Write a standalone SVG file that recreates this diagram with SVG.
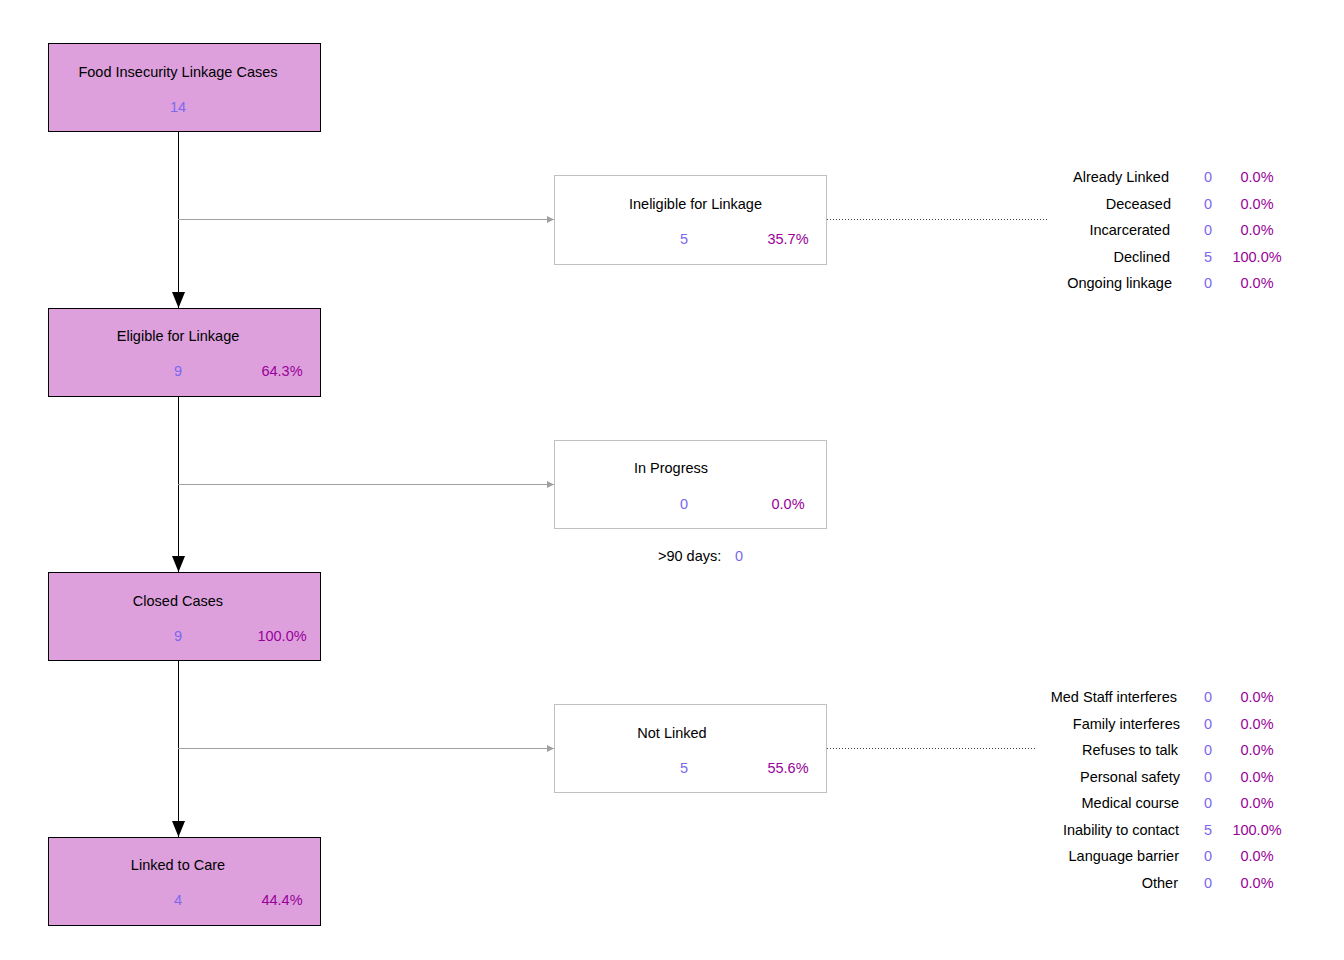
<svg xmlns="http://www.w3.org/2000/svg" width="1344" height="960" viewBox="0 0 1344 960">
  <style>
    text { font-family: "Liberation Sans", Arial, sans-serif; font-size: 14.5px; }
    .lbl { fill: #000000; }
    .num { fill: #7b68ee; text-anchor: middle; }
    .pct { fill: #990099; text-anchor: middle; }
    .mid { text-anchor: middle; }
    .end { text-anchor: end; }
    .main { fill: #dda0dd; stroke: #000000; stroke-width: 1; }
    .side { fill: #ffffff; stroke: #c0c0c0; stroke-width: 1; }
    .flow { stroke: #000000; stroke-width: 1; fill: none; }
    .branch { stroke: #a0a0a0; stroke-width: 1; fill: none; }
    .dots { stroke: #404040; stroke-width: 1; stroke-dasharray: 1 2; fill: none; }
  </style>
  <defs>
    <marker id="bigArrow" markerWidth="16" markerHeight="13" refX="16" refY="6.5" orient="auto" markerUnits="userSpaceOnUse">
      <path d="M0,0 L16,6.5 L0,13 Z" fill="#000000"/>
    </marker>
    <marker id="smallArrow" markerWidth="7" markerHeight="7" refX="7" refY="3.5" orient="auto" markerUnits="userSpaceOnUse">
      <path d="M0,0 L7,3.5 L0,7 Z" fill="#a0a0a0"/>
    </marker>
  </defs>

  <rect width="1344" height="960" fill="#ffffff"/>

  <!-- connectors -->
  <g id="connectors">
    <line class="flow" x1="178.5" y1="131" x2="178.5" y2="308" marker-end="url(#bigArrow)"/>
    <line class="flow" x1="178.5" y1="396" x2="178.5" y2="572" marker-end="url(#bigArrow)"/>
    <line class="flow" x1="178.5" y1="660" x2="178.5" y2="837" marker-end="url(#bigArrow)"/>
    <line class="branch" x1="178" y1="219.5" x2="554" y2="219.5" marker-end="url(#smallArrow)"/>
    <line class="branch" x1="178" y1="484.5" x2="554" y2="484.5" marker-end="url(#smallArrow)"/>
    <line class="branch" x1="178" y1="748.5" x2="554" y2="748.5" marker-end="url(#smallArrow)"/>
    <line class="dots" x1="827" y1="219.5" x2="1048" y2="219.5"/>
    <line class="dots" x1="827" y1="748.5" x2="1036" y2="748.5"/>
  </g>

  <!-- main flow -->
  <g id="food-insecurity-cases">
    <rect class="main" x="48.5" y="43.5" width="272" height="88"/>
    <text class="lbl mid" x="178" y="77">Food Insecurity Linkage Cases</text>
    <text class="num" x="178" y="112">14</text>
  </g>
  <g id="eligible">
    <rect class="main" x="48.5" y="308.5" width="272" height="88"/>
    <text class="lbl mid" x="178" y="341">Eligible for Linkage</text>
    <text class="num" x="178" y="376">9</text>
    <text class="pct" x="282" y="376">64.3%</text>
  </g>
  <g id="closed">
    <rect class="main" x="48.5" y="572.5" width="272" height="88"/>
    <text class="lbl mid" x="178" y="606">Closed Cases</text>
    <text class="num" x="178" y="641">9</text>
    <text class="pct" x="282" y="641">100.0%</text>
  </g>
  <g id="linked">
    <rect class="main" x="48.5" y="837.5" width="272" height="88"/>
    <text class="lbl mid" x="178" y="870">Linked to Care</text>
    <text class="num" x="178" y="905">4</text>
    <text class="pct" x="282" y="905">44.4%</text>
  </g>

  <!-- branches -->
  <g id="ineligible">
    <rect class="side" x="554.5" y="175.5" width="272" height="89"/>
    <text class="lbl mid" x="695.5" y="209">Ineligible for Linkage</text>
    <text class="num" x="684" y="244">5</text>
    <text class="pct" x="788" y="244">35.7%</text>
  </g>
  <g id="in-progress">
    <rect class="side" x="554.5" y="440.5" width="272" height="88"/>
    <text class="lbl mid" x="671" y="473">In Progress</text>
    <text class="num" x="684" y="509">0</text>
    <text class="pct" x="788" y="509">0.0%</text>
    <text class="lbl" x="658" y="561">&gt;90 days:</text>
    <text class="num" x="739" y="561">0</text>
  </g>
  <g id="not-linked">
    <rect class="side" x="554.5" y="704.5" width="272" height="88"/>
    <text class="lbl mid" x="672" y="738">Not Linked</text>
    <text class="num" x="684" y="773">5</text>
    <text class="pct" x="788" y="773">55.6%</text>
  </g>

  <!-- ineligible reasons -->
  <g id="ineligible-reasons">
    <text class="lbl end" x="1169" y="182">Already Linked</text>
    <text class="num" x="1208" y="182">0</text>
    <text class="pct" x="1257" y="182">0.0%</text>
    <text class="lbl end" x="1171" y="209">Deceased</text>
    <text class="num" x="1208" y="209">0</text>
    <text class="pct" x="1257" y="209">0.0%</text>
    <text class="lbl end" x="1170" y="235">Incarcerated</text>
    <text class="num" x="1208" y="235">0</text>
    <text class="pct" x="1257" y="235">0.0%</text>
    <text class="lbl end" x="1170" y="262">Declined</text>
    <text class="num" x="1208" y="262">5</text>
    <text class="pct" x="1257" y="262">100.0%</text>
    <text class="lbl end" x="1172" y="288">Ongoing linkage</text>
    <text class="num" x="1208" y="288">0</text>
    <text class="pct" x="1257" y="288">0.0%</text>
  </g>

  <!-- not linked reasons -->
  <g id="not-linked-reasons">
    <text class="lbl end" x="1177" y="702">Med Staff interferes</text>
    <text class="num" x="1208" y="702">0</text>
    <text class="pct" x="1257" y="702">0.0%</text>
    <text class="lbl end" x="1180" y="729">Family interferes</text>
    <text class="num" x="1208" y="729">0</text>
    <text class="pct" x="1257" y="729">0.0%</text>
    <text class="lbl end" x="1178" y="755">Refuses to talk</text>
    <text class="num" x="1208" y="755">0</text>
    <text class="pct" x="1257" y="755">0.0%</text>
    <text class="lbl end" x="1180" y="782">Personal safety</text>
    <text class="num" x="1208" y="782">0</text>
    <text class="pct" x="1257" y="782">0.0%</text>
    <text class="lbl end" x="1179" y="808">Medical course</text>
    <text class="num" x="1208" y="808">0</text>
    <text class="pct" x="1257" y="808">0.0%</text>
    <text class="lbl end" x="1179" y="835">Inability to contact</text>
    <text class="num" x="1208" y="835">5</text>
    <text class="pct" x="1257" y="835">100.0%</text>
    <text class="lbl end" x="1179" y="861">Language barrier</text>
    <text class="num" x="1208" y="861">0</text>
    <text class="pct" x="1257" y="861">0.0%</text>
    <text class="lbl end" x="1178" y="888">Other</text>
    <text class="num" x="1208" y="888">0</text>
    <text class="pct" x="1257" y="888">0.0%</text>
  </g>
</svg>
